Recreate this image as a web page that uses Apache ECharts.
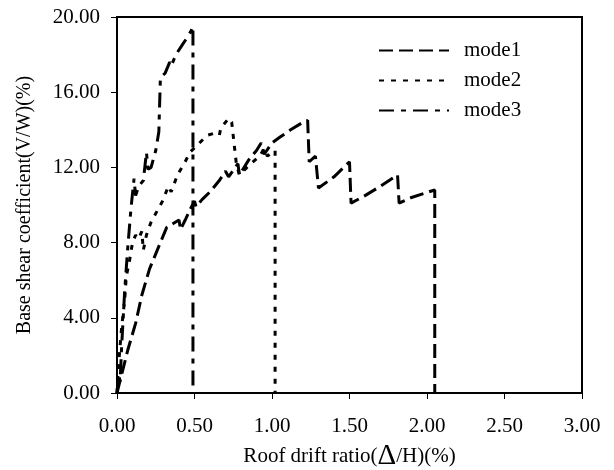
<!DOCTYPE html>
<html>
<head>
<meta charset="utf-8">
<script src="https://cdn.jsdelivr.net/npm/echarts@6/dist/echarts.min.js"></script>
<style>
html,body{margin:0;padding:0;background:#fff;}
#c{width:614px;height:470px;}
</style>
</head>
<body>
<div id="c"></div>
<script>
var seriesNames = ['mode1', 'mode2', 'mode3'];
var xTicks = [0, 0.5, 1.0, 1.5, 2.0, 2.5, 3.0];
var yTicks = [0, 4, 8, 12, 16, 20];

var mode1X = [0,0.07,0.12,0.16,0.21,0.28,0.32,0.36,0.40,0.41,0.44,0.48,0.50,0.51,0.55,0.60,0.66,0.70,0.72,0.78,0.79,0.85,0.90,0.93,0.95,1.00,1.05,1.12,1.20,1.23,1.24,1.28,1.30,1.40,1.50,1.51,1.60,1.70,1.81,1.82,1.90,2.05,2.05];
var mode1Y = [0,2.3,3.7,5.2,6.6,8.0,8.8,9.0,9.2,8.7,9.2,9.9,10.2,9.9,10.3,10.7,11.3,11.8,11.5,12.2,11.6,12.4,12.9,13.3,12.7,13.3,13.6,14.0,14.4,14.5,12.3,12.6,10.9,11.5,12.3,10.1,10.5,11.0,11.6,10.1,10.4,10.8,0];

var mode2X = [0,0.01,0.03,0.05,0.06,0.08,0.10,0.12,0.14,0.16,0.17,0.19,0.22,0.26,0.30,0.33,0.35,0.39,0.44,0.47,0.52,0.58,0.62,0.66,0.67,0.72,0.74,0.77,0.79,0.85,0.92,0.95,0.97,1.02,1.02];
var mode2Y = [0,1.5,3.5,5.0,6.2,7.0,8.0,8.4,8.2,8.6,7.6,8.4,9.1,9.7,10.3,11.0,10.7,11.6,12.3,12.8,13.2,13.7,13.8,13.7,14.1,14.6,14.4,12.2,11.6,12.1,12.6,13.0,12.6,12.9,0];

var mode3X = [0,0.01,0.02,0.03,0.05,0.07,0.09,0.11,0.12,0.14,0.17,0.19,0.20,0.22,0.25,0.27,0.28,0.31,0.34,0.35,0.38,0.42,0.46,0.48,0.49,0.49];
var mode3Y = [0,1.0,0.6,2.5,5.5,7.8,9.8,11.4,10.5,11.0,11.3,12.8,11.9,12.0,12.9,13.9,16.8,17.0,17.6,17.4,18.0,18.5,19.0,19.3,19.5,0];

function zip(xs, ys) { return xs.map(function (x, i) { return [x, ys[i]]; }); }

var FONT = '"Liberation Serif", "Times New Roman", serif';
var dashes = [[14, 6], [5, 7], [15, 7, 5, 7]];
var datas = [zip(mode1X, mode1Y), zip(mode2X, mode2Y), zip(mode3X, mode3Y)];

var chart = echarts.init(document.getElementById('c'), null, {renderer: 'canvas'});
chart.setOption({
  animation: false,
  backgroundColor: '#fff',
  textStyle: {fontFamily: FONT, color: '#000'},
  grid: {left: 117, top: 17, right: 32, bottom: 77, containLabel: false, outerBoundsMode: 'none', show: true, borderColor: '#000', borderWidth: 2, backgroundColor: 'transparent'},
  legend: {
    orient: 'vertical', left: 373, top: 35,
    itemWidth: 70, itemHeight: 14, itemGap: 9,
    data: seriesNames,
    itemStyle: {color: 'transparent', borderColor: 'transparent', borderWidth: 0},
    textStyle: {fontFamily: FONT, fontSize: 21, color: '#000', lineHeight: 20.5, padding: [0, 0, 0, 10]}
  },
  xAxis: {
    type: 'value', min: xTicks[0], max: xTicks[xTicks.length - 1], interval: 0.5,
    name: 'Roof drift ratio({d|Δ}/H)(%)', nameLocation: 'middle', nameGap: 47,
    nameTextStyle: {fontFamily: FONT, fontSize: 21, color: '#000', rich: {d: {fontFamily: FONT, fontSize: 29, color: '#000'}}},
    axisLine: {lineStyle: {color: '#000', width: 2}},
    axisTick: {show: true, inside: false, length: 6, lineStyle: {color: '#000', width: 1}},
    axisLabel: {margin: 23, fontFamily: FONT, fontSize: 21, color: '#000', formatter: function (v) { return v.toFixed(2); }},
    splitLine: {show: false}
  },
  yAxis: {
    type: 'value', min: yTicks[0], max: yTicks[yTicks.length - 1], interval: 4,
    name: 'Base shear coefficient(V/W)(%)', nameLocation: 'middle', nameGap: 82,
    nameTextStyle: {fontFamily: FONT, fontSize: 20, color: '#000'},
    axisLine: {lineStyle: {color: '#000', width: 2}},
    axisTick: {show: true, inside: false, length: 6, lineStyle: {color: '#000', width: 1}},
    axisLabel: {margin: 17, fontFamily: FONT, fontSize: 21, color: '#000', formatter: function (v) { return v.toFixed(2); }},
    splitLine: {show: false}
  },
  series: seriesNames.map(function (n, i) {
    return {
      name: n, type: 'line', data: datas[i], symbol: 'none', showSymbol: false,
      lineStyle: {color: '#000', width: 3, type: dashes[i], cap: 'butt'},
      itemStyle: {color: '#000'}
    };
  })
});
</script>
</body>
</html>
